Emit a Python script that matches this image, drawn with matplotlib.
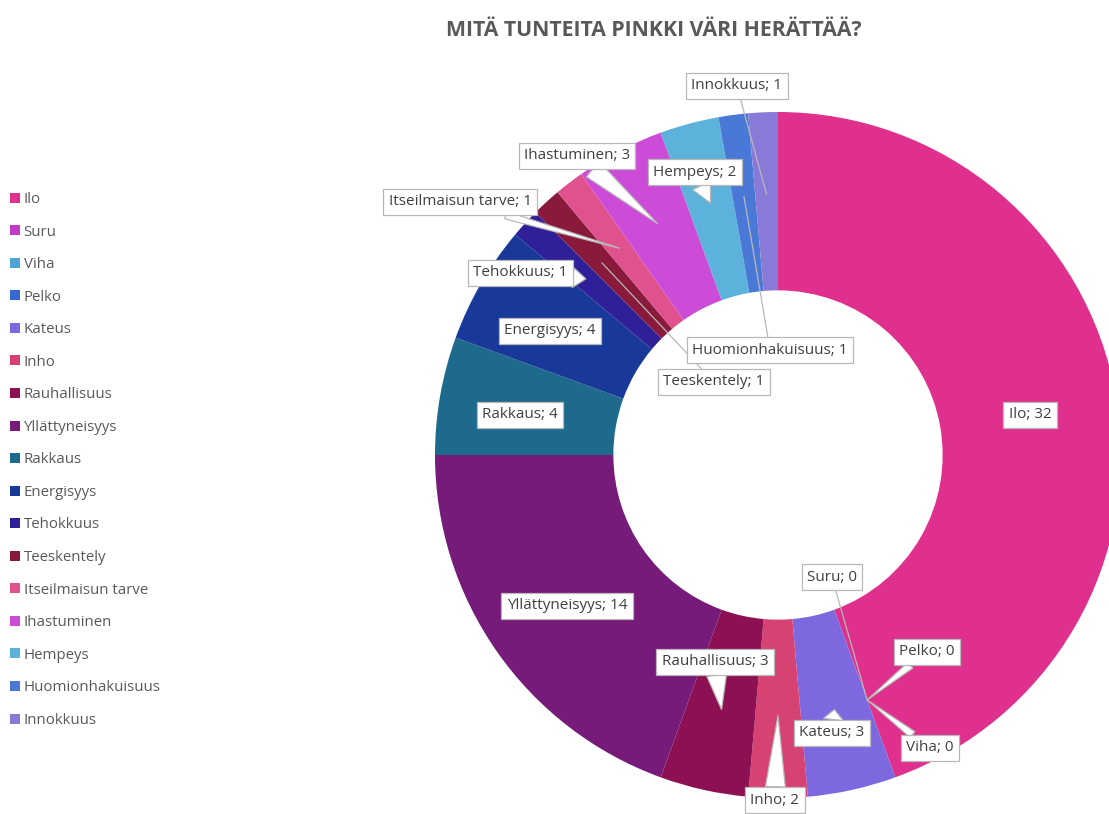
import matplotlib
matplotlib.use("Agg")
import matplotlib.pyplot as plt
import numpy as np

categories = ["Ilo", "Suru", "Viha", "Pelko", "Kateus", "Inho", "Rauhallisuus",
              "Yllättyneisyys", "Rakkaus", "Energisyys", "Tehokkuus", "Teeskentely",
              "Itseilmaisun tarve", "Ihastuminen", "Hempeys", "Huomionhakuisuus", "Innokkuus"]
values = [32, 0, 0, 0, 3, 2, 3, 14, 4, 4, 1, 1, 1, 3, 2, 1, 1]
colors = ["#e0308e", "#c03cc6", "#4ea6d6", "#3868d2", "#7e68e0", "#d64373", "#8c1052",
          "#761b7a", "#1e6a8c", "#19399a", "#2f1f98", "#8a1a3c", "#e0528e", "#cc4cd8",
          "#5cb2da", "#4a78d6", "#8a7ad8"]
title = "MITÄ TUNTEITA PINKKI VÄRI HERÄTTÄÄ?"

# label layout (data coords of the axes, radius 1) and callout style
label_pos = {
    "Ilo": (0.735, 0.117), "Suru": (0.157, -0.356), "Pelko": (0.434, -0.574),
    "Viha": (0.443, -0.854), "Kateus": (0.157, -0.810), "Inho": (-0.009, -1.006),
    "Rauhallisuus": (-0.184, -0.603), "Yllättyneisyys": (-0.615, -0.440),
    "Rakkaus": (-0.752, 0.117), "Energisyys": (-0.665, 0.362), "Tehokkuus": (-0.752, 0.531),
    "Teeskentely": (-0.187, 0.213), "Itseilmaisun tarve": (-0.927, 0.738),
    "Ihastuminen": (-0.586, 0.872), "Hempeys": (-0.242, 0.825),
    "Huomionhakuisuus": (-0.023, 0.306), "Innokkuus": (-0.120, 1.076),
}
style = {
    "Ilo": None, "Yllättyneisyys": None, "Rakkaus": None, "Energisyys": None,
    "Suru": "line", "Teeskentely": "line", "Huomionhakuisuus": "line", "Innokkuus": "line",
    "Pelko": "thin", "Viha": "thin", "Kateus": "wedge", "Inho": "wedge",
    "Rauhallisuus": "wedge", "Tehokkuus": "wedge", "Ihastuminen": "wedge",
    "Hempeys": "wedge", "Itseilmaisun tarve": "thin",
}

plt.rcParams['font.family'] = ['Open Sans', 'DejaVu Sans']
W, H = 1109, 814
fig = plt.figure(figsize=(W / 100, H / 100), dpi=100)
cx, cy, R = 778, 455, 343
ax = fig.add_axes([(cx - R) / W, (H - cy - R) / H, 2 * R / W, 2 * R / H])

wedges, _ = ax.pie(values, colors=colors, startangle=90, counterclock=False,
                   radius=1.0, wedgeprops=dict(width=0.52, edgecolor='none', linewidth=0))
ax.set_xlim(-1, 1)
ax.set_ylim(-1, 1)
ax.set_aspect('auto')
ax.axis('off')
for w in wedges:
    w.set_clip_on(False)

edge = "#b8b8b8"
for w, cat, v in zip(wedges, categories, values):
    ang = np.deg2rad((w.theta1 + w.theta2) / 2)
    rm = 0.76
    target = (rm * np.cos(ang), rm * np.sin(ang))
    tx, ty = label_pos[cat]
    st = style[cat]
    bbox = dict(boxstyle="square,pad=0.35", fc="white", ec=edge, lw=0.9)
    kw = dict(xy=target, xytext=(tx, ty), ha="center", va="center", fontsize=11,
              color="#404040", bbox=bbox, annotation_clip=False, zorder=5)
    if st == "line":
        kw["arrowprops"] = dict(arrowstyle="-", color=edge, lw=0.9, shrinkA=0, shrinkB=0)
    elif st == "wedge":
        kw["arrowprops"] = dict(arrowstyle="wedge,tail_width=1.3,shrink_factor=0.5",
                                fc="white", ec=edge, lw=0.9, shrinkA=0, shrinkB=0)
    elif st == "thin":
        kw["arrowprops"] = dict(arrowstyle="wedge,tail_width=0.5,shrink_factor=0.5",
                                fc="white", ec=edge, lw=0.9, shrinkA=0, shrinkB=0)
    ax.annotate(f"{cat}; {v}", **kw)

fig.text(654 / W, 1 - 30 / H, title, ha="center", va="center", fontsize=15.3,
         fontweight="bold", color="#595959")

leg = fig.legend(wedges, categories, loc="upper left", bbox_to_anchor=(4 / W, 1 - 186 / H),
                 frameon=False, fontsize=10.8, labelspacing=1.17, handlelength=0.65,
                 handleheight=0.65, handletextpad=0.25, borderaxespad=0)
for t in leg.get_texts():
    t.set_color("#595959")

fig.savefig("out.png", dpi=100)
